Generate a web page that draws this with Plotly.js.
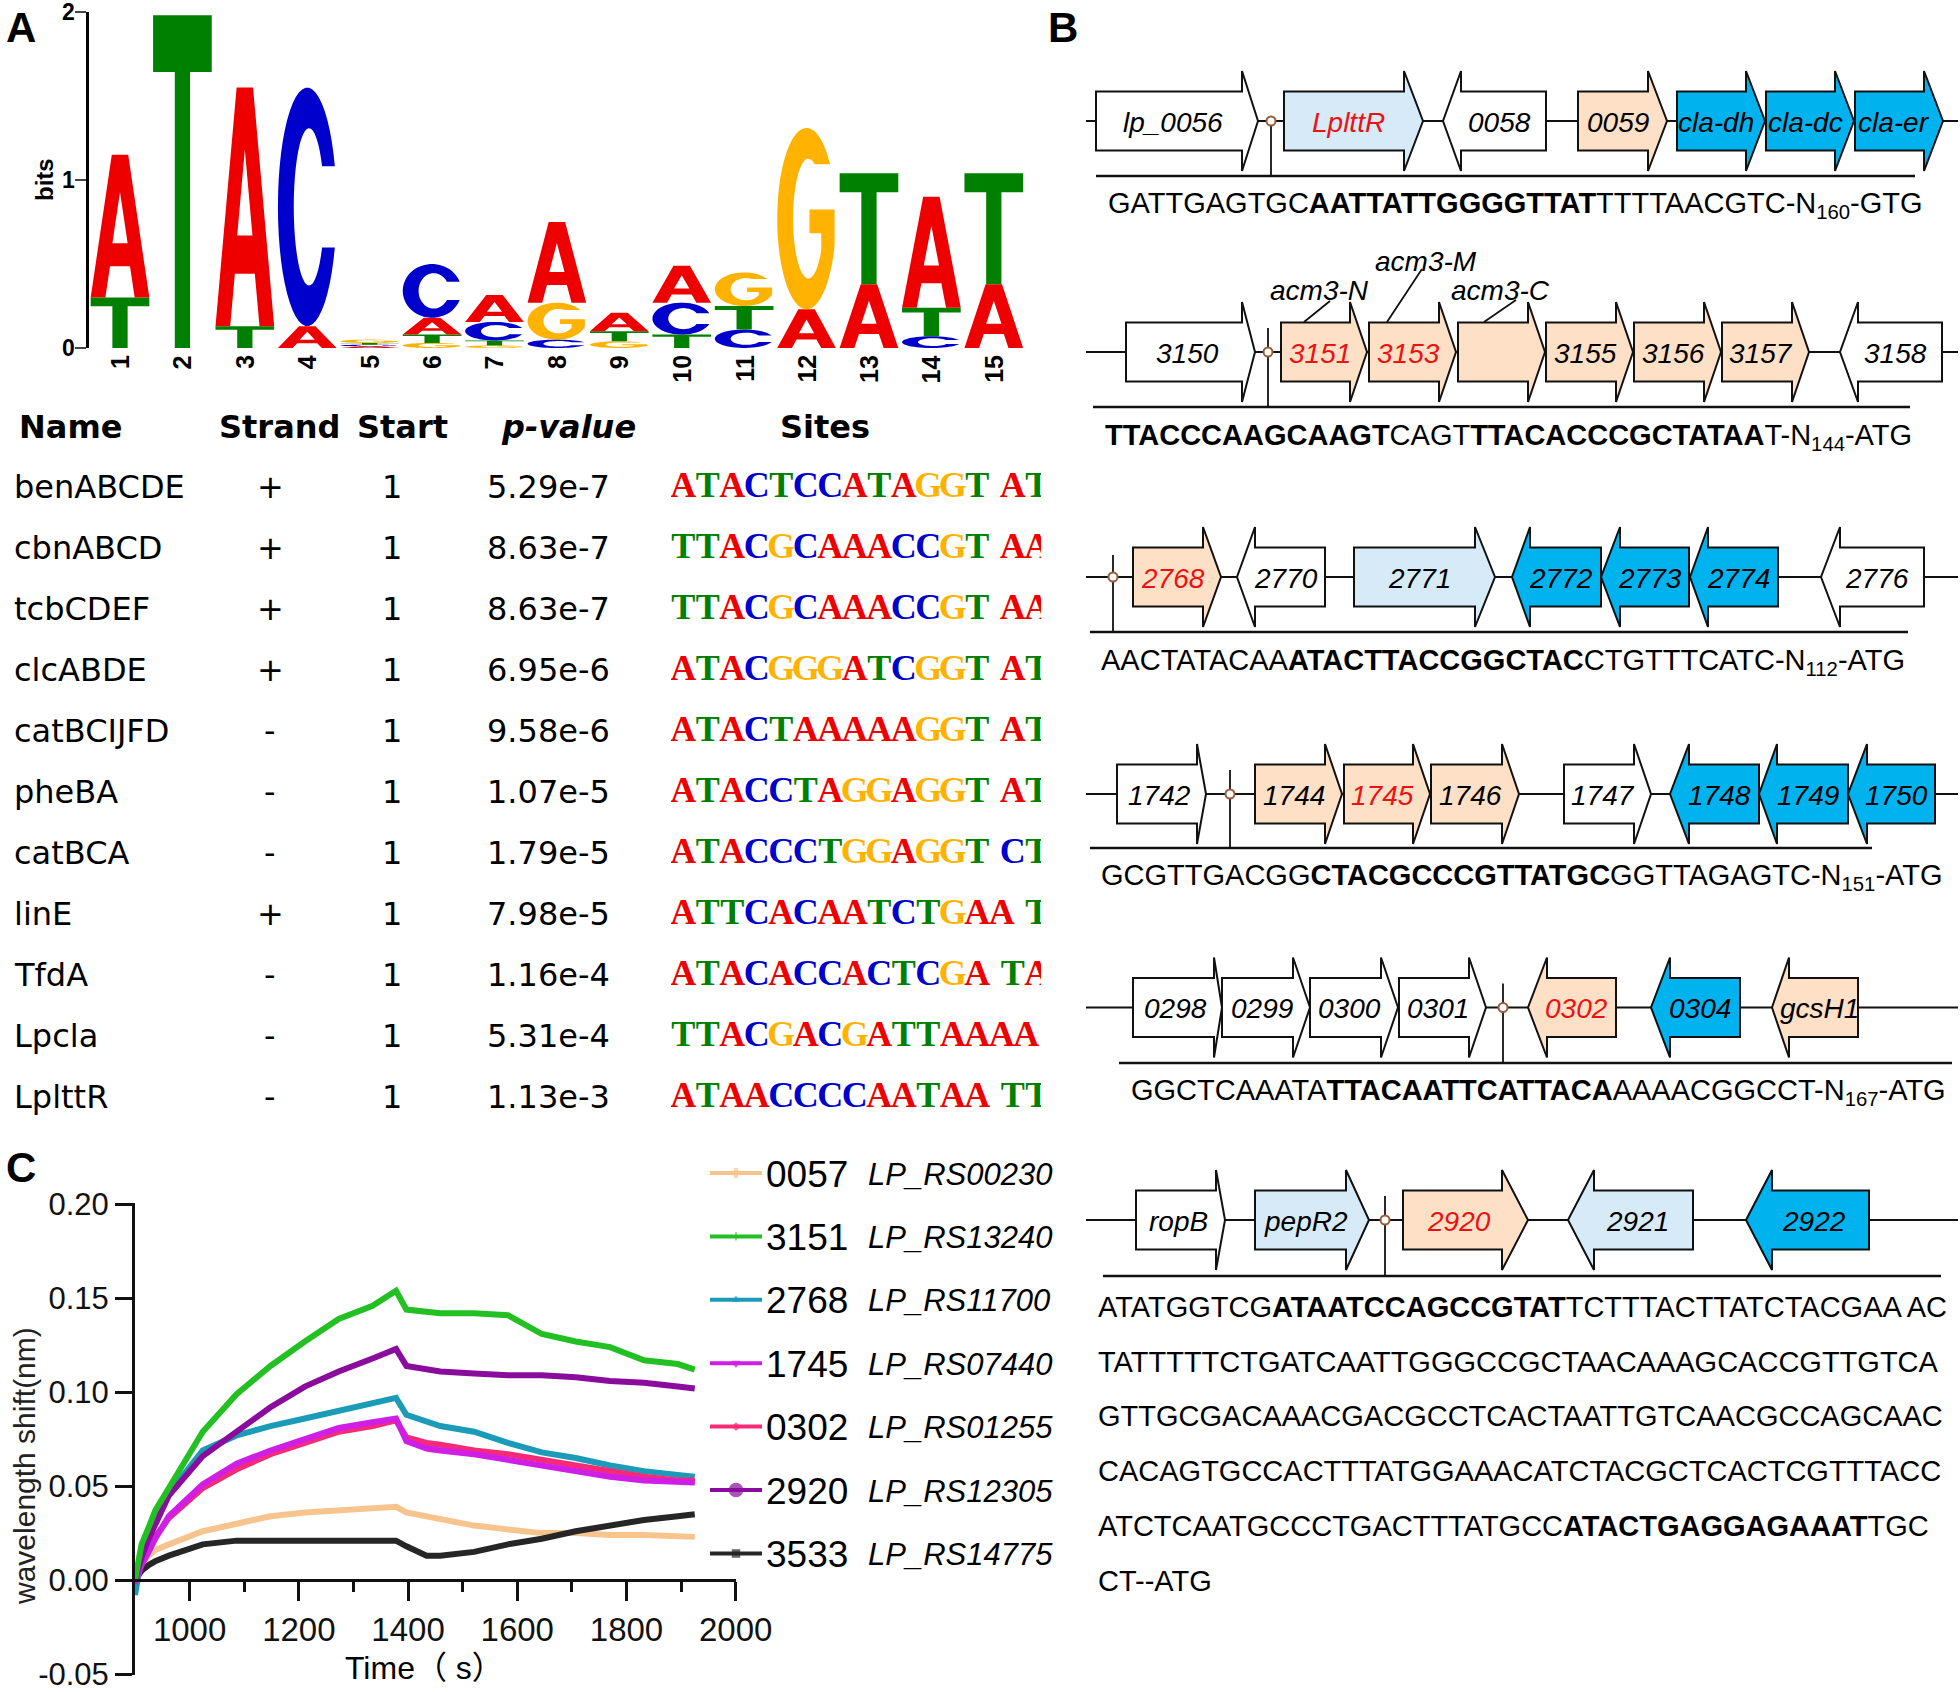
<!DOCTYPE html>
<html><head><meta charset="utf-8">
<script src="https://cdn.plot.ly/plotly-3.0.1.min.js"></script>
<style>html,body{margin:0;padding:0;background:#fff}</style>
</head><body>
<div id="plot" style="width:1960px;height:1692px"></div>
<script>
// ================= DATA =================
// Panel A – sequence logo, information (bits) per base at positions 1..15
const logoPositions = [1,2,3,4,5,6,7,8,9,10,11,12,13,14,15];
const logoA = [0.85,0,1.42,0.13,0.01,0.10,0.16,0.48,0.11,0.22,0,0.23,0.38,0.66,0.38];
const logoC = [0,0,0,1.42,0.01,0.32,0.11,0.05,0,0.19,0.11,0,0,0.07,0];
const logoG = [0,0,0,0,0.02,0.03,0.015,0.22,0.04,0,0.20,1.08,0,0,0];
const logoT = [0.30,1.98,0.13,0,0.01,0.05,0.03,0,0.06,0.08,0.14,0,0.66,0.17,0.66];
const logoYTicks = [0,1,2];

// Panel A – site table
const siteNames   = ["benABCDE","cbnABCD","tcbCDEF","clcABDE","catBCIJFD","pheBA","catBCA","linE","TfdA","Lpcla","LplttR"];
const siteStrands = ["+","+","+","+","-","-","-","+","-","-","-"];
const siteStarts  = ["1","1","1","1","1","1","1","1","1","1","1"];
const sitePvalues = ["5.29e-7","8.63e-7","8.63e-7","6.95e-6","9.58e-6","1.07e-5","1.79e-5","7.98e-5","1.16e-4","5.31e-4","1.13e-3"];
const siteSeqs    = ["ATACTCCATAGGT AT","TTACGCAAACCGT AA","TTACGCAAACCGT AA","ATACGGGATCGGT AT","ATACTAAAAAGGT AT",
                     "ATACCTAGGAGGT AT","ATACCCTGGAGGT CT","ATTCACAATCTGAA T","ATACACCACTCGA TA","TTACGACGATTAAAA","ATAACCCCAATAA TT"];

// Panel C – BLI wavelength shift (nm) vs time (s)
const times = [900,912,925,937,962,1024,1086,1148,1211,1273,1335,1378,1397,1434,1459,1521,1583,1645,1707,1770,1832,1894,1925];
const s0057 = [0.0,0.009,0.013,0.016,0.019,0.026,0.030,0.034,0.036,0.037,0.038,0.039,0.036,0.034,0.032,0.029,0.027,0.025,0.025,0.024,0.024,0.023,0.023];
const s3151 = [0.0,0.019,0.028,0.037,0.049,0.079,0.099,0.114,0.127,0.139,0.146,0.154,0.144,0.143,0.142,0.142,0.141,0.131,0.127,0.124,0.117,0.115,0.112];
const s2768 = [-0.008,0.012,0.022,0.031,0.046,0.069,0.077,0.082,0.086,0.090,0.094,0.097,0.088,0.084,0.082,0.079,0.073,0.068,0.065,0.061,0.058,0.056,0.055];
const s1745 = [-0.002,0.008,0.015,0.022,0.034,0.051,0.062,0.069,0.075,0.081,0.084,0.086,0.074,0.070,0.069,0.067,0.064,0.061,0.058,0.055,0.053,0.052,0.052];
const s0302 = [0.0,0.009,0.016,0.023,0.033,0.049,0.059,0.067,0.073,0.079,0.082,0.085,0.076,0.073,0.072,0.069,0.067,0.064,0.061,0.058,0.055,0.053,0.053];
const s2920 = [0.0,0.012,0.022,0.030,0.045,0.066,0.079,0.092,0.103,0.111,0.118,0.123,0.114,0.112,0.111,0.110,0.109,0.109,0.108,0.106,0.105,0.103,0.102];
const s3533 = [0.0,0.005,0.008,0.010,0.013,0.019,0.021,0.021,0.021,0.021,0.021,0.021,0.018,0.013,0.013,0.015,0.019,0.022,0.026,0.029,0.032,0.034,0.035];
const seriesIds   = ["0057","3151","2768","1745","0302","2920","3533"];
const seriesLoci  = ["LP_RS00230","LP_RS13240","LP_RS11700","LP_RS07440","LP_RS01255","LP_RS12305","LP_RS14775"];
const seriesVals  = [s0057,s3151,s2768,s1745,s0302,s2920,s3533];
const yTicks = [-0.05,0,0.05,0.10,0.15,0.20];
const yTickText = ["-0.05","0.00","0.05","0.10","0.15","0.20"];
const xTicks = [1000,1200,1400,1600,1800,2000];
const xMinorTicks = [1100,1300,1500,1700,1900];

// Panel B – operons: [label, left, right, strand, headLength, class]
const operon1 = [["lp_0056",1096,1258,1,16,"w"],["LplttR",1284,1423,1,19,"lb"],["0058",1443,1546,-1,18,"w"],
                 ["0059",1578,1667,1,19,"pe"],["cla-dh",1677,1765,1,19,"bl"],["cla-dc",1766,1854,1,19,"bl"],["cla-er",1855,1943,1,19,"bl"]];
const operon2 = [["3150",1126,1255,1,13,"w"],["3151",1281,1367,1,17,"pe"],["3153",1369,1456,1,17,"pe"],["",1458,1545,1,17,"pe"],
                 ["3155",1546,1633,1,17,"pe"],["3156",1634,1721,1,17,"pe"],["3157",1722,1809,1,17,"pe"],["3158",1840,1942,-1,18,"w"]];
const operon3 = [["2768",1133,1221,1,18,"pe"],["2770",1237,1325,-1,18,"w"],["2771",1354,1495,1,20,"lb"],["2772",1512,1601,-1,18,"bl"],
                 ["2773",1601,1689,-1,19,"bl"],["2774",1690,1778,-1,18,"bl"],["2776",1821,1924,-1,19,"w"]];
const operon4 = [["1742",1117,1206,1,9,"w"],["1744",1255,1342,1,17,"pe"],["1745",1344,1430,1,17,"pe"],["1746",1431,1519,1,17,"pe"],
                 ["1747",1564,1651,1,17,"w"],["1748",1670,1759,-1,19,"bl"],["1749",1759,1848,-1,18,"bl"],["1750",1848,1935,-1,19,"bl"]];
const operon5 = [["0298",1133,1222,1,8,"w"],["0299",1222,1310,1,17,"w"],["0300",1310,1398,1,17,"w"],["0301",1399,1486,1,17,"w"],
                 ["0302",1528,1616,-1,19,"pe"],["0304",1651,1740,-1,19,"bl"],["gcsH1",1772,1858,-1,17,"pe"]];
const operon6 = [["ropB",1136,1225,1,9,"w"],["pepR2",1255,1369,1,23,"lb"],["2920",1403,1528,1,26,"pe"],
                 ["2921",1568,1693,-1,26,"lb"],["2922",1746,1869,-1,26,"bl"]];
const operons = [operon1,operon2,operon3,operon4,operon5,operon6];
const boxSites = [1271,1268,1113,1230,1503,1385];        // binding-site marker positions
const highlighted = ["LplttR","3151","3153","2768","1745","0302","2920"];
const promoterSeqs = [
  "GATTGAGTGC<b>AATTATTGGGGTTAT</b>TTTTAACGTC-N<sub>160</sub>-GTG",
  "<b>TTACCCAAGCAAGT</b>CAGT<b>TTACACCCGCTATAA</b>T-N<sub>144</sub>-ATG",
  "AACTATACAA<b>ATACTTACCGGCTAC</b>CTGTTTCATC-N<sub>112</sub>-ATG",
  "GCGTTGACGG<b>CTACGCCCGTTATGC</b>GGTTAGAGTC-N<sub>151</sub>-ATG",
  "GGCTCAAATA<b>TTACAATTCATTACA</b>AAAACGGCCT-N<sub>167</sub>-ATG"
];
const promoter6Lines = [
  "ATATGGTCG<b>ATAATCCAGCCGTAT</b>TCTTTACTTATCTACGAA AC",
  "TATTTTTCTGATCAATTGGGCCGCTAACAAAGCACCGTTGTCA",
  "GTTGCGACAAACGACGCCTCACTAATTGTCAACGCCAGCAAC",
  "CACAGTGCCACTTTATGGAAACATCTACGCTCACTCGTTTACC",
  "ATCTCAATGCCCTGACTTTATGCC<b>ATACTGAGGAGAAAT</b>TGC",
  "CT--ATG"
];

// ================= STYLE / LAYOUT =================
const W = 1960, H = 1692;
const px = x => x / W, py = y => 1 - y / H;
const SANS = "Liberation Sans, Arial, Helvetica, sans-serif";
const VERD = "DejaVu Sans, Verdana, sans-serif";
const SERIF = "Liberation Serif, Times New Roman, serif";
const baseColor = {A:"#ee0000", C:"#0000cc", G:"#ffb300", T:"#008000"};
const classFill = {w:"#ffffff", lb:"#d7eaf8", pe:"#fde0c6", bl:"#00b2ee"};
const seriesColors = ["#f8c48e","#22c022","#1c9bb8","#cf1fe6","#f72a78","#8a0c9c","#262626"];

const shapes = [], annotations = [];
const ann = (x, y, text, o) => Object.assign({xref:"x3", yref:"y3", x, y, text, showarrow:false,
  xanchor:"center", yanchor:"middle", font:{family:SANS, size:28, color:"#000"}}, o || {});

// ---------- logo glyphs ----------
const f = v => v.toFixed(4);
function ell(cx, cy, rx, ry, a0, a1, n) {
  const p = [];
  for (let i = 0; i <= n; i++) { const a = a0 + (a1 - a0) * i / n; p.push([cx + rx * Math.cos(a), cy + ry * Math.sin(a)]); }
  return p;
}
function glyph(letter) {
  if (letter === "A") return [
    [[0,0],[0.36,1],[0.64,1],[1,0],[0.75,0],[0.67,0.22],[0.33,0.22],[0.25,0]],
    [[0.37,0.38],[0.5,0.74],[0.63,0.38]]];
  if (letter === "T") return [[[0,1],[1,1],[1,0.83],[0.63,0.83],[0.63,0],[0.37,0],[0.37,0.83],[0,0.83]]];
  if (letter === "C") {
    const a0 = Math.asin(0.17/0.5), b0 = Math.asin(0.17/0.33);
    return [ell(0.5,0.5,0.5,0.5,a0,2*Math.PI-a0,48).concat(ell(0.53,0.5,0.26,0.33,2*Math.PI-b0,b0,40))];
  }
  const a0 = Math.asin(0.3/0.5), b0 = Math.asin(0.3/0.33);
  const bL = 2*Math.PI - Math.acos((0.75-0.53)/0.26);
  const outer = ell(0.5,0.5,0.5,0.5,a0,2*Math.PI-0.3,48);
  const ox = outer[outer.length-1][0];
  const pts = outer.concat([[ox,0.55],[0.55,0.55],[0.55,0.42],[0.75,0.42]])
                   .concat(ell(0.53,0.5,0.26,0.33,bL,b0,40));
  return [pts];
}
logoPositions.forEach((pos, k) => {
  const stack = [["A",logoA[k]],["C",logoC[k]],["G",logoG[k]],["T",logoT[k]]]
    .filter(d => d[1] > 0).sort((a, b) => a[1] - b[1]);
  let cum = 0;
  stack.forEach(([b, h]) => {
    const x0 = pos - 0.47, x1 = pos + 0.47, y0 = cum, y1 = cum + h;
    cum = y1;
    const path = glyph(b).map(poly => "M" + poly.map(([u, v]) => f(x0 + u*(x1-x0)) + "," + f(y0 + v*(y1-y0))).join("L") + "Z").join(" ");
    shapes.push({type:"path", xref:"x", yref:"y", path, fillcolor:baseColor[b], fillrule:"evenodd", line:{width:0}, layer:"above"});
  });
  annotations.push({xref:"x", yref:"y3", x:pos, y:353, yanchor:"top", xanchor:"center", textangle:-90, showarrow:false,
    text:"<b>" + pos + "</b>", font:{family:SANS, size:25, color:"#000"}});
});
logoYTicks.forEach(v => annotations.push({xref:"x3", yref:"y", x:77, y:v, xanchor:"right", yanchor:"middle", showarrow:false,
  text:"<b>" + v + "</b>", font:{family:SANS, size:23, color:"#000"}}));
annotations.push(ann(44, 180, "<b>bits</b>", {textangle:-90, font:{family:SANS, size:24, color:"#000"}}));

// panel letters
annotations.push(ann(21, 27, "<b>A</b>", {font:{family:SANS, size:42, color:"#000"}}));
annotations.push(ann(1063, 27, "<b>B</b>", {font:{family:SANS, size:42, color:"#000"}}));
annotations.push(ann(21, 1167, "<b>C</b>", {font:{family:SANS, size:42, color:"#000"}}));

// ---------- table ----------
const headY = 427, rowY0 = 487.4, rowStep = 61;
const hf = {family:VERD, size:32, color:"#000"};
annotations.push(ann(17, headY, "<b>Name</b>", {xanchor:"left", font:hf}));
annotations.push(ann(279, headY, "<b>Strand</b>", {font:hf}));
annotations.push(ann(402, headY, "<b>Start</b>", {font:hf}));
annotations.push(ann(568, headY, "<b><i>p-value</i></b>", {font:hf}));
annotations.push(ann(825, headY, "<b>Sites</b>", {font:hf}));
siteNames.forEach((n, r) => {
  const y = rowY0 + r*rowStep;
  annotations.push(ann(12, y, n, {xanchor:"left", font:hf}));
  annotations.push(ann(270, y, siteStrands[r], {font:hf}));
  annotations.push(ann(392, y, siteStarts[r], {font:hf}));
  annotations.push(ann(485, y, sitePvalues[r], {xanchor:"left", font:hf}));
});
const sx = [], sy = [], st = [], sc = [];
siteSeqs.forEach((s, r) => {
  let cur = 0;
  for (const ch of s) {
    if (ch === " ") { cur += 0.45; continue; }
    sx.push(cur + 0.5); sy.push(r); st.push(ch); sc.push(baseColor[ch]); cur += 1;
  }
});

// ---------- panel C legend ----------
const legY0 = 1173, legStep = 63.4;
seriesIds.forEach((id, i) => {
  const y = legY0 + i*legStep;
  shapes.push({type:"line", xref:"x3", yref:"y3", x0:710, x1:762, y0:y, y1:y, line:{color:seriesColors[i], width:4}});
  annotations.push(ann(764, y + 1, id, {xanchor:"left", font:{family:SANS, size:37, color:"#000"}}));
  annotations.push(ann(866, y + 1, "<i>" + seriesLoci[i] + "</i>", {xanchor:"left", font:{family:SANS, size:31, color:"#000"}}));
});
annotations.push(ann(24, 1466, "wavelength shift(nm)", {textangle:-90, font:{family:SANS, size:30, color:"#222"}}));
annotations.push(ann(424, 1668, "Time（ s）", {font:{family:SANS + ", Noto Sans CJK SC", size:32, color:"#000"}}));

// ---------- panel B ----------
const rowCY = [121, 352, 577, 794, 1007.5, 1220];
const lowerY = [176, 407, 632, 848, 1063, 1276];
const lowerX = [[1096,1915],[1093,1910],[1090,1908],[1090,1872],[1119,1952],[1103,1941]];
const markTop = [0, 24, 22, 24, 24, 24];
const seqY = [205, 437, 662, 877, 1092];
const seqX = [1106, 1103, 1099, 1099, 1129];
const BH = 29.5, HH = 50;
function genePath(l, r, s, hd, cy) {
  if (s > 0) { const b = r - hd;
    return `M${l},${cy-BH}L${b},${cy-BH}L${b},${cy-HH}L${r},${cy}L${b},${cy+HH}L${b},${cy+BH}L${l},${cy+BH}Z`; }
  const b = l + hd;
  return `M${r},${cy-BH}L${b},${cy-BH}L${b},${cy-HH}L${l},${cy}L${b},${cy+HH}L${b},${cy+BH}L${r},${cy+BH}Z`;
}
operons.forEach((genes, k) => {
  const cy = rowCY[k];
  shapes.push({type:"line", xref:"x3", yref:"y3", x0:1086, x1:1958, y0:cy, y1:cy, line:{color:"#111", width:2.2}});
  shapes.push({type:"line", xref:"x3", yref:"y3", x0:lowerX[k][0], x1:lowerX[k][1], y0:lowerY[k], y1:lowerY[k], line:{color:"#111", width:2.6}});
  shapes.push({type:"line", xref:"x3", yref:"y3", x0:boxSites[k], x1:boxSites[k], y0:cy - markTop[k], y1:lowerY[k], line:{color:"#111", width:1.8}});
  genes.forEach(([name, l, r, s, hd, cls]) => {
    shapes.push({type:"path", xref:"x3", yref:"y3", path:genePath(l, r, s, hd, cy), fillcolor:classFill[cls], line:{color:"#111", width:2}});
    if (name) {
      const bodyC = s > 0 ? (l + r - hd)/2 : (l + hd + r)/2;
      const xc = 0.5*bodyC + 0.5*(l + r)/2;
      annotations.push(ann(xc, cy + 1, "<i>" + name + "</i>", {font:{family:SANS, size:28, color: highlighted.includes(name) ? "#ee1111" : "#000"}}));
    }
  });
  shapes.push({type:"circle", xref:"x3", yref:"y3", x0:boxSites[k]-4.5, x1:boxSites[k]+4.5, y0:cy-4.5, y1:cy+4.5, fillcolor:"#fff", line:{color:"#9a5a3a", width:2}});
});
[["acm3-N",1319,290,1330,301,1304,322],["acm3-M",1426,261,1422,269,1387,322],["acm3-C",1500,290,1516,300,1484,322]].forEach(([t,x,y,x0,y0,x1,y1]) => {
  annotations.push(ann(x, y, "<i>" + t + "</i>", {font:{family:SANS, size:28, color:"#000"}}));
  shapes.push({type:"line", xref:"x3", yref:"y3", x0, y0, x1, y1, line:{color:"#111", width:1.8}});
});
promoterSeqs.forEach((s, k) => annotations.push(ann(seqX[k], seqY[k], s, {xanchor:"left", font:{family:SANS, size:29, color:"#000"}})));
promoter6Lines.forEach((s, k) => annotations.push(ann(1096, 1307 + k*54.7, s, {xanchor:"left", font:{family:SANS, size:29, color:"#000"}})));

// ================= TRACES =================
const traces = [];
const order = [0,6,2,4,3,5,1];
order.forEach(i => traces.push({type:"scatter", mode:"lines", x:times, y:seriesVals[i], xaxis:"x2", yaxis:"y2",
  line:{color:seriesColors[i], width:6}, hoverinfo:"skip", cliponaxis:false}));
traces.push({type:"scatter", mode:"markers", xaxis:"x3", yaxis:"y3",
  x:seriesIds.map(() => 736), y:seriesIds.map((_, i) => legY0 + i*legStep),
  marker:{symbol:["cross","line-ns","triangle-up","triangle-down","diamond","circle","square"],
          size:[7,6,6,7,5,13,7], color:seriesColors, line:{color:seriesColors, width:1.5}}, hoverinfo:"skip"});
traces.push({type:"scatter", mode:"text", xaxis:"x4", yaxis:"y4", x:sx, y:sy, text:st,
  textfont:{family:SERIF, size:36, color:sc, weight:"bold"}, textposition:"middle center", cliponaxis:true, hoverinfo:"skip"});

const axNone = {visible:false, showgrid:false, zeroline:false, fixedrange:true};
const yPxPerUnit = (1674 - 1204.4) / 0.25;
const layout = {
  width:W, height:H, margin:{l:0,r:0,t:0,b:0}, paper_bgcolor:"#fff", plot_bgcolor:"rgba(0,0,0,0)",
  showlegend:false, shapes, annotations,
  xaxis:{domain:[px(88.8), px(1025)], range:[0.5,15.5], anchor:"y", showticklabels:false,
         ticks:"", showline:false, showgrid:false, zeroline:false},
  yaxis:{domain:[py(348), py(12)], range:[0,2], anchor:"x", tickvals:logoYTicks, showticklabels:false,
         ticks:"outside", ticklen:11, tickwidth:2.5,
         showline:true, linewidth:2.5, linecolor:"#000", showgrid:false, zeroline:false},
  xaxis2:{domain:[px(135), px(735.7)], range:[900,2000], anchor:"free", position:py(1580), tickvals:xTicks,
          ticks:"outside", ticklen:19, tickwidth:3, tickcolor:"#111", showline:true, linewidth:3, linecolor:"#111",
          minor:{tickvals:xMinorTicks, ticklen:10, tickwidth:3, tickcolor:"#111", ticks:"outside"},
          showgrid:false, zeroline:false, tickfont:{family:SANS, size:33, color:"#111"}, ticklabeloverflow:"allow"},
  yaxis2:{domain:[py(1674 + 0.0006*yPxPerUnit), py(1204.4 - 0.0006*yPxPerUnit)], range:[-0.0506,0.2006], anchor:"x2",
          tickvals:yTicks, ticktext:yTickText, ticklabeloverflow:"allow",
          ticks:"outside", ticklen:17, tickwidth:3, tickcolor:"#111", showline:true, linewidth:3, linecolor:"#111",
          showgrid:false, zeroline:false, tickfont:{family:SANS, size:31, color:"#111"}},
  xaxis3:Object.assign({domain:[0,1], range:[0,W], anchor:"y3"}, axNone),
  yaxis3:Object.assign({domain:[0,1], range:[H,0], anchor:"x3"}, axNone),
  xaxis4:Object.assign({domain:[px(671), px(1041)], range:[0,370/24.5], anchor:"y4"}, axNone),
  yaxis4:Object.assign({domain:[py(1128), py(457)], range:[10.5,-0.5], anchor:"x4"}, axNone)
};
Plotly.newPlot("plot", traces, layout, {displayModeBar:false, staticPlot:true});
</script>
</body></html>
